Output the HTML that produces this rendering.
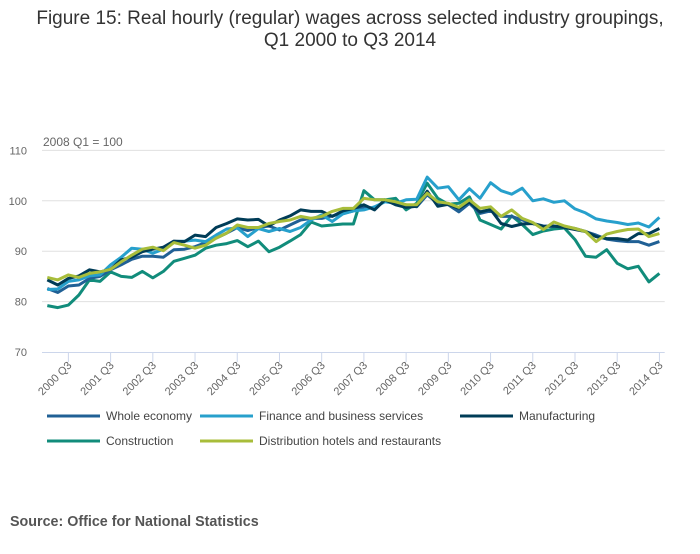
<!DOCTYPE html>
<html><head><meta charset="utf-8"><style>
body{margin:0;background:#fff;width:700px;height:549px;overflow:hidden;font-family:"Liberation Sans",sans-serif}
</style></head><body>
<svg id="chart" width="700" height="549" xmlns="http://www.w3.org/2000/svg" font-family="Liberation Sans, sans-serif">
<text x="350" y="24" text-anchor="middle" font-size="19" fill="#333">Figure 15: Real hourly (regular) wages across selected industry groupings,</text>
<text x="350" y="46" text-anchor="middle" font-size="19" fill="#333">Q1 2000 to Q3 2014</text>
<text x="43" y="146" font-size="12" fill="#666">2008 Q1 = 100</text>
<g id="grid"></g><g id="xaxis"></g><g id="series"></g><g id="legend"></g>
<text x="10" y="526" font-size="14.3" font-weight="bold" fill="#555">Source: Office for National Statistics</text>
</svg>
<script>
const yTicks=[70,80,90,100,110];
const years=[2000,2001,2002,2003,2004,2005,2006,2007,2008,2009,2010,2011,2012,2013,2014];
const seriesNames=["Whole economy","Finance and business services","Manufacturing","Construction","Distribution hotels and restaurants"];
const wholeEconomy=[82.6,81.8,83.1,83.3,84.6,85,86.3,87.3,88.4,89,89,88.8,90.3,90.4,90.9,91.7,92.6,93.6,94.7,94.1,94.7,95,94.2,95.2,96.2,96.5,96.5,97,97.5,98,98.8,98.5,100,99.8,99.2,98.8,101.2,99.5,99.2,97.8,99.5,97.5,98,96.9,96.9,96.2,95.5,95,94.9,94.9,94.5,93.9,93.2,92.4,92.1,91.9,91.9,91.2,91.9];
const finance=[82.4,82.5,84,84.3,85.1,85.3,87.3,88.8,90.6,90.4,89.6,90.4,91.9,92,92.2,91.9,93.2,94.4,94.6,92.9,94.5,93.9,94.5,93.9,94.7,96.2,97.2,95.9,97.4,98,98.2,98.8,99.8,99.5,100.2,100.3,104.7,102.5,102.8,100.2,102.4,100.5,103.6,102,101.3,102.5,100,100.4,99.7,100,98.4,97.6,96.4,96,95.7,95.3,95.6,94.8,96.7];
const manufacturing=[84.3,83.3,84.6,85.1,86.3,85.9,86.4,88.3,88.8,89.9,90.4,90.8,92,91.9,93.2,92.9,94.7,95.5,96.4,96.2,96.3,95,96.2,97,98.2,97.9,97.9,96.9,98,98.5,99.2,98.2,100.2,99.2,98.7,98.9,101.9,98.9,99.3,98.5,99.8,97.8,98.3,95.5,94.9,95.4,95.5,94.9,95,94.7,94.3,93.9,92.9,92.5,92.5,92.2,93.5,93.5,94.5];
const construction=[79.2,78.8,79.3,81.3,84.3,84,85.9,85,84.8,86,84.7,86,88,88.6,89.2,90.6,91.2,91.5,92.1,90.9,92,89.9,90.8,92,93.3,95.8,95,95.2,95.4,95.4,102,100.2,100.2,100.5,98.2,99.5,103.5,100.5,99.3,99.5,100.8,96.2,95.3,94.4,97,95.3,93.3,94,94.4,94.6,92.3,89,88.8,90.3,87.6,86.5,87,83.9,85.6];
const distribution=[84.8,84.3,85.3,84.8,85.6,85.9,86.4,87.9,89.2,90.4,90.8,90.1,91.7,91.2,90.6,91.2,92.6,93.6,95.2,94.7,94.7,95.5,95.9,96.2,96.9,96.5,96.9,97.9,98.5,98.5,100.5,100.2,100.2,99.8,99.2,99.2,101.5,99.8,99.5,98.7,100.2,98.5,98.8,96.9,98.2,96.5,95.7,94.3,95.8,95,94.5,93.9,91.9,93.4,93.9,94.3,94.4,92.9,93.5];
const colors=["#206095","#27a0cc","#003c57","#118c7b","#a8bd3a"];
const NS="http://www.w3.org/2000/svg";
const x0=42,x1=664.7,n=59,step=(x1-x0)/n;
const X=i=>x0+step*(i+0.5);
const Y=v=>352-(v-70)*5.04;
function mk(t,a,p){const e=document.createElementNS(NS,t);for(const k in a)e.setAttribute(k,a[k]);p.appendChild(e);return e;}
const grid=document.getElementById('grid');
yTicks.forEach(v=>{
 if(v>70){const l=mk('line',{x1:x0,x2:x1,y1:Y(v),y2:Y(v),stroke:'#e0e0e0','stroke-width':1},grid);
 
 }
 const t=mk('text',{x:27,y:Y(v)+4,'text-anchor':'end','font-size':11,fill:'#666'},grid);
 t.textContent=v;
 
 
});
const xa=document.getElementById('xaxis');
const ax=mk('line',{x1:x0,x2:x1,y1:352.5,y2:352.5,stroke:'#ccd6eb','stroke-width':1},xa);


years.forEach((yr,k)=>{
 const i=k*4+2,x=X(i);
 mk('line',{x1:x,x2:x,y1:352,y2:362,stroke:'#ccd6eb'},xa);
 const t=mk('text',{x:x+4,y:366,'text-anchor':'end','font-size':11,fill:'#666',transform:`rotate(-45 ${x+4} 366)`},xa);
 t.textContent=yr+' Q3';
 
 
});
const data=[wholeEconomy,finance,manufacturing,construction,distribution];
const sg=document.getElementById('series');
[3,0,1,2,4].forEach(s=>{
 const d=data[s].map((v,i)=>(i?'L':'M')+X(i).toFixed(1)+' '+Y(v).toFixed(1)).join(' ');
 const p=mk('path',{d:d,fill:'none',stroke:colors[s],'stroke-width':3,'stroke-linejoin':'round'},sg);
 
 
});
const lg=document.getElementById('legend');
const pos=[[47,416],[200,416],[460,416],[47,441],[200,441]];
seriesNames.forEach((nm,s)=>{
 const g=mk('g',{},lg);
 
 
 const [lx,ly]=pos[s];
 mk('line',{x1:lx,x2:lx+53,y1:ly,y2:ly,stroke:colors[s],'stroke-width':3},g);
 const t=mk('text',{x:lx+59,y:ly+4,'font-size':12,fill:'#444'},g);
 t.textContent=nm;
});
</script>
</body></html>
